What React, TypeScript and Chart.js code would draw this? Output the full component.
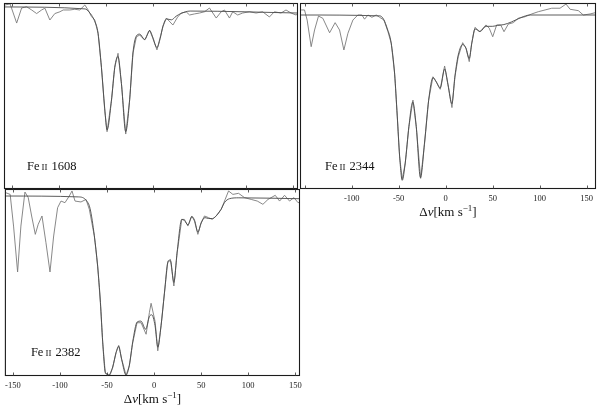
import React, { useEffect, useRef } from "react";
import { Chart, registerables } from "chart.js";
Chart.register(...registerables);

// ---------- data ----------
const tickValues = [-150, -100, -50, 0, 50, 100, 150];
const tickLabels = ["-150", "-100", "-50", "0", "50", "100", "150"];
const ionName = "Fe";
const ionStage = "II";
const panelLines = ["1608", "2344", "2382"];

// Panel 1: Fe II 1608
const v1Obs = [-157.4,-152,-145,-139.7,-134.4,-129,-123.7,-118.4,-114.9,-109.6,-104.3,-98.9,-95.4,-88.3,-83,-77.7,-72.3,-68.8,-65.2,-61.7,-58.2,-54.6,-51.1,-48.6,-43.9,-40.4,-36.9,-33.3,-28.7,-24.5,-20.9,-17.3,-13.8,-8.5,-3.2,0,4.6,11,14.6,21.6,26.6,30.5,35.9,39.4,44.7,50,55.3,60.6,64.2,67.8,73.1,76.6,81.9,85.4,90.7,96,103.2,110.3,117.3,124.5,129.8,136.9,142.2,147.6,152.9,156];
const f1Obs = [1.028,1.034,0.927,1.011,1.018,1.0,0.98,1.0,1.01,0.944,0.98,0.99,1.0,1.0,1.004,1.0,1.028,1.0,0.963,0.944,0.87,0.68,0.44,0.32,0.497,0.68,0.758,0.59,0.307,0.497,0.76,0.85,0.86,0.832,0.888,0.844,0.777,0.907,0.955,0.916,0.96,0.983,0.989,0.972,0.978,0.983,0.99,1.011,0.983,0.955,0.99,1.0,0.955,0.99,0.972,0.983,0.99,0.983,0.99,0.961,0.99,0.983,1.0,0.983,0.972,0.983];
const v1Mod = [-158.5,-72,-68,-65,-62,-58.2,-54.6,-51.1,-48.6,-44,-40.4,-37,-33.3,-28.7,-24.5,-21,-17.3,-13.8,-8.5,-3.2,0,4.6,8,11,15,20,25,30,40,155];
const f1Mod = [1.017,1.006,0.99,0.97,0.94,0.87,0.68,0.45,0.33,0.49,0.68,0.74,0.59,0.32,0.5,0.76,0.855,0.865,0.835,0.885,0.85,0.79,0.84,0.91,0.95,0.945,0.965,0.98,0.994,0.983];

// Panel 2: Fe II 2344
const v2Obs = [-153.8,-150.2,-147.4,-143.1,-139.5,-135.3,-130.7,-123.5,-117.6,-112.9,-108.3,-104,-98.7,-93.4,-89.1,-86.3,-82.7,-78.5,-73.9,-70.3,-65.7,-61.4,-57.9,-54.3,-51.5,-49,-46.2,-43,-39.1,-34.8,-31.3,-26.6,-22.4,-18.1,-13.5,-10,-5.8,-1.1,2.4,6.7,9.9,13.4,18.1,21.6,25.1,27.7,31.2,36.5,42.9,46.4,50.1,54.3,58.6,62.1,66.7,72,77.3,84.5,91.6,98.6,105.8,112.9,121.7,128.1,132.4,141.2,146.5,153.7,159];
const f2Obs = [1.029,1.029,0.971,0.818,0.914,0.994,0.981,0.898,0.956,0.914,0.799,0.895,0.971,1.0,1.0,0.976,1.0,0.987,1.0,0.987,0.971,0.904,0.837,0.665,0.416,0.186,0.056,0.148,0.358,0.511,0.358,0.061,0.263,0.511,0.645,0.617,0.573,0.707,0.607,0.468,0.645,0.76,0.841,0.809,0.732,0.837,0.929,0.904,0.943,0.924,0.875,0.943,0.943,0.904,0.948,0.956,0.981,0.99,1.006,1.019,1.029,1.039,1.039,1.063,1.033,1.025,1.0,1.006,1.013];
const v2Mod = [-155,-70,-66,-62,-58,-54.3,-51.5,-49,-46.2,-43,-39.1,-35,-31.3,-26.8,-22.4,-18.1,-13.5,-10,-5.8,-1.1,2.4,6.6,9.9,13.4,18.1,21.6,25.1,27.9,31.2,36.5,43,50,55,62,70,80,90,160];
const f2Mod = [1.0,0.995,0.975,0.92,0.84,0.66,0.42,0.19,0.05,0.15,0.36,0.5,0.36,0.065,0.27,0.51,0.64,0.615,0.58,0.69,0.6,0.49,0.65,0.77,0.83,0.81,0.75,0.84,0.92,0.905,0.935,0.935,0.94,0.945,0.96,0.985,1.0,1.0];

// Panel 3: Fe II 2382
const v3Obs = [-157.4,-152.9,-149.3,-145,-141.5,-137.2,-133.7,-130.1,-126.2,-123.1,-119.1,-114.9,-110.6,-106.7,-102.5,-98.9,-94.7,-90.1,-87.2,-84,-77.7,-72.3,-68.8,-63.5,-59.9,-57.1,-54.6,-51.8,-47.6,-44,-40.4,-37.6,-34.4,-29.8,-26.3,-22.7,-18.1,-13.8,-8.5,-5,-3.2,1.1,3.9,7.4,11,14.6,17.4,21,24.5,29.4,32.3,35.9,40.1,42.9,46.5,50,53.5,57.8,61.7,66,71.3,75.5,79.1,83.7,89.7,96.1,103.2,109.6,115.6,121,128.7,133.3,138.6,143.9,148.6,152.9,156];
const f3Obs = [1.018,1.009,0.833,0.578,0.833,1.022,0.991,0.889,0.787,0.843,0.889,0.741,0.578,0.778,0.935,0.972,0.963,1.0,1.028,0.972,0.967,0.981,0.926,0.778,0.611,0.407,0.185,0.015,0.004,0.046,0.13,0.17,0.093,0.004,0.056,0.185,0.296,0.296,0.232,0.352,0.404,0.302,0.14,0.278,0.463,0.639,0.648,0.5,0.685,0.87,0.87,0.833,0.889,0.861,0.787,0.852,0.889,0.88,0.87,0.889,0.926,0.981,1.028,1.009,1.015,0.991,0.981,0.972,0.954,0.981,1.004,0.972,1.004,0.972,0.991,0.963,0.967];
const v3Mod = [-158.5,-80,-72,-68,-63.5,-60,-57,-54.6,-51.8,-47.6,-44,-40.4,-37.6,-34.4,-29.8,-26.3,-22.7,-18,-14,-9,-5,-2.5,1,4,7.4,11,14.6,17.4,21,24.5,29.4,32,36,40,43,46.5,50,54,58,62,66,71,75,80,90,155];
const f3Mod = [1.0,0.995,0.975,0.93,0.78,0.61,0.41,0.19,0.02,0.005,0.05,0.13,0.165,0.09,0.005,0.06,0.19,0.3,0.305,0.26,0.33,0.34,0.28,0.16,0.28,0.46,0.63,0.64,0.52,0.69,0.87,0.865,0.84,0.885,0.865,0.8,0.85,0.88,0.875,0.875,0.89,0.925,0.965,0.985,0.99,0.985];

const SERIF = "'Liberation Serif', 'DejaVu Serif', serif";

const decorPlugin = {
  id: "decor",
  afterDraw(chart: any, _args: any, opts: any) {
    const { ctx, chartArea: a, scales } = chart;
    const xs = scales.x;
    ctx.save();
    // frame
    ctx.strokeStyle = "#1c1c1c";
    ctx.lineWidth = 1.1;
    ctx.strokeRect(a.left + 0.5, a.top + 0.5, a.right - a.left - 1, a.bottom - a.top - 1);
    // inward tick marks
    ctx.lineWidth = 0.8;
    ctx.strokeStyle = "#333";
    for (const v of tickValues) {
      const px = Math.round(xs.getPixelForValue(v)) + 0.5;
      if (px < a.left + 2 || px > a.right - 2) continue;
      ctx.beginPath();
      ctx.moveTo(px, a.bottom);
      ctx.lineTo(px, a.bottom - 3.5);
      ctx.moveTo(px, a.top);
      ctx.lineTo(px, a.top + 3.5);
      ctx.stroke();
    }
    // line label
    ctx.fillStyle = "#111";
    ctx.textBaseline = "alphabetic";
    ctx.textAlign = "left";
    let tx = a.left + opts.labelDx;
    const ty = a.top + opts.labelDy;
    ctx.font = `12.5px ${SERIF}`;
    ctx.fillText(ionName, tx, ty);
    tx += ctx.measureText(ionName).width + 2;
    ctx.font = `9px ${SERIF}`;
    ctx.fillText(ionStage, tx, ty);
    tx += ctx.measureText(ionStage).width + 4;
    ctx.font = `12.5px ${SERIF}`;
    ctx.fillText(opts.line, tx, ty);
    // axis title
    if (opts.axisTitle) {
      const cy = a.bottom + opts.titleDy;
      const parts: any[] = [
        { t: "\u0394", f: `13px ${SERIF}`, dy: 0 },
        { t: "v", f: `italic 13px ${SERIF}`, dy: 0 },
        { t: "[km s", f: `13px ${SERIF}`, dy: 0 },
        { t: "\u22121", f: `9px ${SERIF}`, dy: -5 },
        { t: "]", f: `13px ${SERIF}`, dy: 0 },
      ];
      let w = 0;
      for (const p of parts) { ctx.font = p.f; p.w = ctx.measureText(p.t).width; w += p.w; }
      let cx = (a.left + a.right) / 2 - w / 2;
      for (const p of parts) { ctx.font = p.f; ctx.fillText(p.t, cx, cy + p.dy); cx += p.w; }
    }
    ctx.restore();
  },
};

type PanelProps = {
  left: number; top: number; width: number; height: number;
  padding: any; axisHeight: number; showAxis: boolean;
  xMin: number; xMax: number; yMax: number;
  vObs: number[]; fObs: number[]; vMod: number[]; fMod: number[];
  line: string; labelDx: number; labelDy: number; hideFirstLabel?: boolean;
};

function Panel(p: PanelProps) {
  const ref = useRef<HTMLCanvasElement>(null);
  useEffect(() => {
    const obs = p.vObs.map((v, i) => ({ x: v, y: p.fObs[i] }));
    const mod = p.vMod.map((v, i) => ({ x: v, y: p.fMod[i] }));
    const chart = new Chart(ref.current as HTMLCanvasElement, {
      type: "line",
      data: {
        datasets: [
          { data: mod, borderColor: "#4a4a4a", borderWidth: 0.9, pointRadius: 0, cubicInterpolationMode: "monotone", fill: false },
          { data: obs, borderColor: "#7a7a7a", borderWidth: 0.9, pointRadius: 0, tension: 0, fill: false },
        ],
      },
      options: {
        animation: false,
        responsive: false,
        devicePixelRatio: 1,
        layout: { padding: p.padding },
        plugins: {
          legend: { display: false },
          tooltip: { enabled: false },
          decor: { line: p.line, labelDx: p.labelDx, labelDy: p.labelDy, axisTitle: p.showAxis, titleDy: 27 },
        } as any,
        scales: {
          x: {
            type: "linear",
            min: p.xMin,
            max: p.xMax,
            display: p.showAxis,
            position: "bottom",
            grid: { display: false, drawTicks: false },
            border: { display: false },
            afterBuildTicks: (s: any) => { s.ticks = tickValues.map((v) => ({ value: v })); },
            afterFit: (s: any) => { s.height = p.axisHeight; },
            ticks: {
              autoSkip: false,
              maxRotation: 0,
              padding: 5,
              color: "#222",
              font: { family: SERIF, size: 8.5 },
              callback: (val: any) => {
                const i = tickValues.indexOf(Number(val));
                if (i < 0) return "";
                if (p.hideFirstLabel && i === 0) return "";
                return tickLabels[i];
              },
            },
          },
          y: { type: "linear", min: 0, max: p.yMax, display: false },
        },
      },
      plugins: [decorPlugin],
    } as any);
    return () => chart.destroy();
  }, []);
  return (
    <div style={{ position: "absolute", left: p.left, top: p.top, width: p.width, height: p.height }}>
      <canvas ref={ref} width={p.width} height={p.height} style={{ width: p.width, height: p.height, display: "block" }} />
    </div>
  );
}

export default function App() {
  return (
    <div style={{ position: "fixed", left: 0, top: 0, width: 600, height: 411, background: "#fff", overflow: "hidden" }}>
      <Panel left={0} top={0} width={300} height={192} padding={{ left: 4, right: 2, top: 3, bottom: 3 }}
        axisHeight={0} showAxis={false} xMin={-158.5} xMax={155} yMax={1.039}
        vObs={v1Obs} fObs={f1Obs} vMod={v1Mod} fMod={f1Mod} line={panelLines[0]} labelDx={23} labelDy={167} />
      <Panel left={296} top={0} width={304} height={225} padding={{ left: 4, right: 4, top: 3, bottom: 0 }}
        axisHeight={36} showAxis={true} xMin={-155} xMax={160} yMax={1.069}
        vObs={v2Obs} fObs={f2Obs} vMod={v2Mod} fMod={f2Mod} line={panelLines[1]} labelDx={25} labelDy={167} hideFirstLabel={true} />
      <Panel left={0} top={186} width={312} height={225} padding={{ left: 4, right: 12, top: 3, bottom: 0 }}
        axisHeight={35} showAxis={true} xMin={-158.5} xMax={155} yMax={1.039}
        vObs={v3Obs} fObs={f3Obs} vMod={v3Mod} fMod={f3Mod} line={panelLines[2]} labelDx={26} labelDy={167} />
    </div>
  );
}
